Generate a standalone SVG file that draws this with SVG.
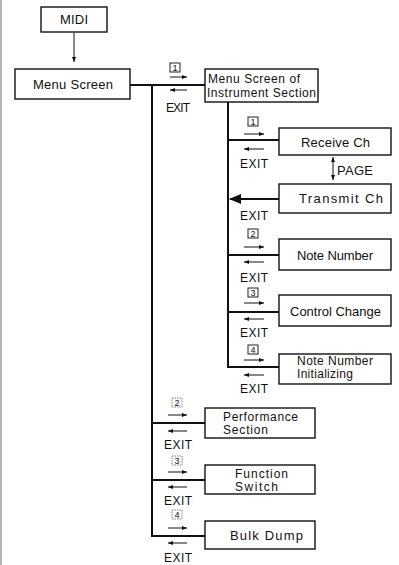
<svg xmlns="http://www.w3.org/2000/svg" width="399" height="565" viewBox="0 0 399 565">
<defs>
<style>
.box{fill:#fff;stroke:#111;stroke-width:1.4}
.t{font-family:"Liberation Sans",Arial,sans-serif;font-size:13px;fill:#111}
.t2{font-family:"Liberation Sans",Arial,sans-serif;font-size:12px;fill:#111}
.c{text-anchor:middle}
.ex{font-family:"Liberation Sans",Arial,sans-serif;font-size:12px;fill:#111}
.num{font-family:"Liberation Sans",Arial,sans-serif;font-size:9px;fill:#111;text-anchor:middle}
.nb{fill:none;stroke:#222;stroke-width:1}
.nbf{fill:none;stroke:#666;stroke-width:0.8;stroke-dasharray:1.5 1}
.wire{fill:none;stroke:#111;stroke-width:2}
.sa{fill:none;stroke:#111;stroke-width:1}
</style>
<marker id="ah" markerUnits="userSpaceOnUse" markerWidth="6" markerHeight="5" refX="5" refY="2.5" orient="auto-start-reverse">
<path d="M0,0.5 L5,2.5 L0,4.5 Z" fill="#111"/>
</marker>
<marker id="big" markerUnits="userSpaceOnUse" markerWidth="13" markerHeight="10" refX="1" refY="5" orient="auto">
<path d="M12,0 L0,5 L12,10 Z" fill="#111"/>
</marker>
</defs>
<rect width="399" height="565" fill="#fff"/>
<line x1="1" y1="0" x2="1" y2="565" stroke="#666" stroke-width="1"/>

<g id="connectors">
<line class="sa" x1="74" y1="33" x2="74" y2="62" marker-end="url(#ah)"/>
<line class="wire" x1="130" y1="85" x2="205" y2="85"/>
<polyline class="wire" points="152,85 152,536 205,536"/>
<line class="wire" x1="152" y1="423" x2="205" y2="423"/>
<line class="wire" x1="152" y1="480" x2="205" y2="480"/>
<line class="wire" x1="228" y1="102" x2="228" y2="367"/>
<line class="wire" x1="228" y1="140" x2="279" y2="140"/>
<line class="wire" x1="230" y1="199" x2="279" y2="199" marker-start="url(#big)"/>
<line class="wire" x1="228" y1="255" x2="279" y2="255"/>
<line class="wire" x1="228" y1="312" x2="279" y2="312"/>
<line class="wire" x1="227" y1="367" x2="279" y2="367"/>
<!-- PAGE double arrow -->
<line class="sa" x1="333" y1="157" x2="333" y2="180" marker-start="url(#ah)" marker-end="url(#ah)"/>
<text class="t" x="337" y="175" textLength="36">PAGE</text>
<!-- top main label -->
<rect class="nb" x="170" y="63" width="10" height="9"/><text class="num" x="175" y="70.5">1</text>
<line class="sa" x1="170" y1="77" x2="187" y2="77" marker-end="url(#ah)"/>
<line class="sa" x1="187" y1="90" x2="170" y2="90" marker-end="url(#ah)"/>
<text class="ex" x="166" y="112" textLength="24">EXIT</text>
<!-- inner labels -->
<rect class="nb" x="248" y="117" width="10" height="9"/><text class="num" x="253" y="124.5">1</text>
<line class="sa" x1="244" y1="134" x2="264" y2="134" marker-end="url(#ah)"/>
<line class="sa" x1="264" y1="149" x2="244" y2="149" marker-end="url(#ah)"/>
<text class="ex" x="240" y="168" textLength="28">EXIT</text>
<text class="ex" x="240" y="220" textLength="28">EXIT</text>
<rect class="nb" x="248" y="229" width="10" height="9"/><text class="num" x="253" y="236.5">2</text>
<line class="sa" x1="244" y1="247" x2="264" y2="247" marker-end="url(#ah)"/>
<line class="sa" x1="264" y1="262" x2="244" y2="262" marker-end="url(#ah)"/>
<text class="ex" x="240" y="282" textLength="28">EXIT</text>
<rect class="nb" x="248" y="288" width="10" height="9"/><text class="num" x="253" y="295.5">3</text>
<line class="sa" x1="244" y1="303" x2="264" y2="303" marker-end="url(#ah)"/>
<line class="sa" x1="264" y1="319" x2="244" y2="319" marker-end="url(#ah)"/>
<text class="ex" x="240" y="337" textLength="28">EXIT</text>
<rect class="nb" x="248" y="345" width="10" height="9"/><text class="num" x="253" y="352.5">4</text>
<line class="sa" x1="244" y1="360" x2="264" y2="360" marker-end="url(#ah)"/>
<line class="sa" x1="264" y1="375" x2="244" y2="375" marker-end="url(#ah)"/>
<text class="ex" x="240" y="393" textLength="28">EXIT</text>
<!-- lower main labels -->
<rect class="nbf" x="172" y="398" width="10" height="9"/><text class="num" x="177" y="405.5">2</text>
<line class="sa" x1="168" y1="415" x2="187" y2="415" marker-end="url(#ah)"/>
<line class="sa" x1="187" y1="431" x2="168" y2="431" marker-end="url(#ah)"/>
<text class="ex" x="164" y="449" textLength="28">EXIT</text>
<rect class="nbf" x="172" y="456" width="10" height="9"/><text class="num" x="177" y="463.5">3</text>
<line class="sa" x1="168" y1="472" x2="187" y2="472" marker-end="url(#ah)"/>
<line class="sa" x1="187" y1="487" x2="168" y2="487" marker-end="url(#ah)"/>
<text class="ex" x="164" y="505" textLength="28">EXIT</text>
<rect class="nbf" x="172" y="510" width="10" height="9"/><text class="num" x="177" y="517.5">4</text>
<line class="sa" x1="168" y1="528" x2="187" y2="528" marker-end="url(#ah)"/>
<line class="sa" x1="187" y1="543" x2="168" y2="543" marker-end="url(#ah)"/>
<text class="ex" x="164" y="562" textLength="28">EXIT</text>
</g>

<g id="midi"><rect class="box" x="41" y="7" width="66" height="25"/><text class="t c" x="74" y="24" textLength="28">MIDI</text></g>
<g id="menu-screen"><rect class="box" x="15" y="69" width="115" height="30"/><text class="t c" x="73" y="89" textLength="80">Menu Screen</text></g>
<g id="instrument-section"><rect class="box" x="205" y="69" width="113" height="33"/><text class="t2" x="208" y="83" textLength="92">Menu Screen of</text><text class="t2" x="207" y="97" textLength="109">Instrument Section</text></g>
<g id="receive-ch"><rect class="box" x="279" y="128" width="112" height="27"/><text class="t" x="301" y="147" textLength="69">Receive Ch</text></g>
<g id="transmit-ch"><rect class="box" x="279" y="184" width="112" height="29"/><text class="t" x="299" y="203" textLength="84">Transmit Ch</text></g>
<g id="note-number"><rect class="box" x="279" y="239" width="112" height="31"/><text class="t" x="297" y="260" textLength="76">Note Number</text></g>
<g id="control-change"><rect class="box" x="279" y="295" width="112" height="31"/><text class="t" x="290" y="316" textLength="91">Control Change</text></g>
<g id="note-number-init"><rect class="box" x="279" y="354" width="112" height="30"/><text class="t2" x="297" y="365" textLength="76">Note Number</text><text class="t2" x="297" y="378" textLength="56">Initializing</text></g>
<g id="performance-section"><rect class="box" x="205" y="408" width="110" height="30"/><text class="t2" x="223" y="421" textLength="75">Performance</text><text class="t2" x="223" y="434" textLength="45">Section</text></g>
<g id="function-switch"><rect class="box" x="205" y="465" width="110" height="29"/><text class="t2" x="235" y="478" textLength="53">Function</text><text class="t2" x="235" y="491" textLength="43">Switch</text></g>
<g id="bulk-dump"><rect class="box" x="205" y="521" width="110" height="28"/><text class="t" x="230" y="540" textLength="73">Bulk Dump</text></g>
</svg>
